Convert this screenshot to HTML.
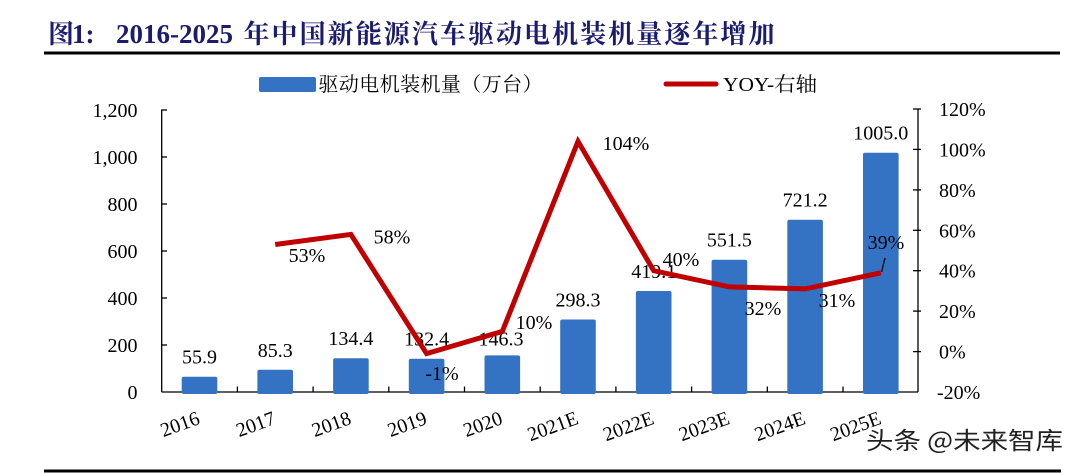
<!DOCTYPE html>
<html>
<head>
<meta charset="utf-8">
<style>
  html, body { margin:0; padding:0; background:#fff; }
  svg { display:block; }
  .ax { font-family:"Liberation Serif","Noto Serif CJK SC",serif; font-size:20px; fill:#000; }
</style>
</head>
<body>
<svg width="1078" height="473" viewBox="0 0 1078 473" xmlns="http://www.w3.org/2000/svg">
  <rect width="1078" height="473" fill="#fff"/>

  <!-- Title -->
  <g fill="#1c1c6e" font-weight="bold">
    <text x="48" y="43" font-family="'Noto Serif CJK SC','Liberation Serif',serif" font-size="26">图</text>
    <text x="72" y="43" font-family="'Liberation Serif',serif" font-size="27">1:</text>
    <text x="116" y="43" font-family="'Liberation Serif',serif" font-size="27" textLength="117" lengthAdjust="spacingAndGlyphs">2016-2025</text>
    <text x="243.5" y="43" font-family="'Noto Serif CJK SC','Liberation Serif',serif" font-size="26" textLength="531" lengthAdjust="spacing">年中国新能源汽车驱动电机装机量逐年增加</text>
  </g>
  <rect x="44" y="51.5" width="1016" height="3" fill="#000"/>
  <rect x="44" y="469.5" width="1017" height="3" fill="#000"/>

  <!-- Legend -->
  <rect x="259" y="77" width="57" height="15" rx="2" fill="#3472c4"/>
  <text x="318.5" y="91" font-family="'Liberation Serif','Noto Serif CJK SC',serif" font-size="20" textLength="224" lengthAdjust="spacing" fill="#000">驱动电机装机量（万台）</text>
  <line x1="666" y1="84" x2="716" y2="84" stroke="#c00000" stroke-width="5" stroke-linecap="round"/>
  <text x="723" y="91" font-family="'Liberation Serif','Noto Serif CJK SC',serif" font-size="20" textLength="94" lengthAdjust="spacingAndGlyphs" fill="#000">YOY-右轴</text>

  <!-- Axes -->
  <g stroke="#000" stroke-width="1.3" fill="none">
    <line x1="161.7" y1="109.5" x2="161.7" y2="392"/>
    <line x1="161.7" y1="392" x2="918" y2="392"/>
    <line x1="918" y1="109" x2="918" y2="392"/>
    <!-- left ticks -->
    <line x1="161.7" y1="110" x2="167" y2="110"/>
    <line x1="161.7" y1="157" x2="167" y2="157"/>
    <line x1="161.7" y1="204" x2="167" y2="204"/>
    <line x1="161.7" y1="251" x2="167" y2="251"/>
    <line x1="161.7" y1="298" x2="167" y2="298"/>
    <line x1="161.7" y1="345" x2="167" y2="345"/>
    <!-- right ticks -->
    <line x1="913" y1="109" x2="921" y2="109"/>
    <line x1="913" y1="149.4" x2="921" y2="149.4"/>
    <line x1="913" y1="189.9" x2="921" y2="189.9"/>
    <line x1="913" y1="230.3" x2="921" y2="230.3"/>
    <line x1="913" y1="270.7" x2="921" y2="270.7"/>
    <line x1="913" y1="311.1" x2="921" y2="311.1"/>
    <line x1="913" y1="351.6" x2="921" y2="351.6"/>
    <!-- category ticks -->
    <line x1="237.4" y1="386.5" x2="237.4" y2="392"/>
    <line x1="313.1" y1="386.5" x2="313.1" y2="392"/>
    <line x1="388.8" y1="386.5" x2="388.8" y2="392"/>
    <line x1="464.5" y1="386.5" x2="464.5" y2="392"/>
    <line x1="540.2" y1="386.5" x2="540.2" y2="392"/>
    <line x1="615.9" y1="386.5" x2="615.9" y2="392"/>
    <line x1="691.6" y1="386.5" x2="691.6" y2="392"/>
    <line x1="767.3" y1="386.5" x2="767.3" y2="392"/>
    <line x1="843" y1="386.5" x2="843" y2="392"/>
  </g>

  <!-- Left labels -->
  <g class="ax" text-anchor="end">
    <text x="137.5" y="117">1,200</text>
    <text x="137.5" y="164">1,000</text>
    <text x="137.5" y="211">800</text>
    <text x="137.5" y="258">600</text>
    <text x="137.5" y="305">400</text>
    <text x="137.5" y="352">200</text>
    <text x="137.5" y="399">0</text>
  </g>
  <!-- Right labels -->
  <g class="ax" text-anchor="start">
    <text x="939" y="116">120%</text>
    <text x="939" y="156.4">100%</text>
    <text x="939" y="196.9">80%</text>
    <text x="939" y="237.3">60%</text>
    <text x="939" y="277.7">40%</text>
    <text x="939" y="318.1">20%</text>
    <text x="939" y="358.6">0%</text>
    <text x="937" y="399">-20%</text>
  </g>

  <!-- Bars -->
  <g fill="#3472c4">
    <rect x="181.7" y="376.7" width="35.6" height="17.3" rx="2"/>
    <rect x="257.4" y="369.8" width="35.6" height="24.2" rx="2"/>
    <rect x="333.1" y="358.2" width="35.6" height="35.8" rx="2"/>
    <rect x="408.8" y="358.7" width="35.6" height="35.3" rx="2"/>
    <rect x="484.5" y="355.4" width="35.6" height="38.6" rx="2"/>
    <rect x="560.2" y="319.5" width="35.6" height="74.5" rx="2"/>
    <rect x="635.9" y="291.0" width="35.6" height="103" rx="2"/>
    <rect x="711.6" y="259.7" width="35.6" height="134.3" rx="2"/>
    <rect x="787.3" y="219.7" width="35.6" height="174.3" rx="2"/>
    <rect x="863.0" y="152.7" width="35.6" height="241.3" rx="2"/>
  </g>

  <!-- Bar value labels -->
  <g class="ax" text-anchor="middle">
    <text x="199.5" y="363.7">55.9</text>
    <text x="275.2" y="356.8">85.3</text>
    <text x="350.9" y="345.2">134.4</text>
    <text x="426.6" y="345.7">132.4</text>
    <text x="501" y="345.4">146.3</text>
    <text x="578.0" y="306.5">298.3</text>
    <text x="653.7" y="278">419.1</text>
    <text x="729.4" y="246.7">551.5</text>
    <text x="805.1" y="206.7">721.2</text>
    <text x="880.8" y="139.7">1005.0</text>
  </g>

  <!-- YOY line -->
  <polyline fill="none" stroke="#c00000" stroke-width="5" stroke-linejoin="miter" stroke-miterlimit="10"
    points="275.2,244.5 350.9,234.4 426.6,353.6 502.3,331.4 578.0,141.4 653.7,270.7 729.4,286.9 805.1,288.9 880.8,272.8"/>
  <line x1="885" y1="258" x2="881.5" y2="272" stroke="#000" stroke-width="1.2"/>

  <!-- YOY labels -->
  <g class="ax" text-anchor="middle">
    <text x="307" y="262">53%</text>
    <text x="392" y="243.7">58%</text>
    <text x="442" y="380">-1%</text>
    <text x="534" y="329">10%</text>
    <text x="626" y="150">104%</text>
    <text x="681" y="266">40%</text>
    <text x="763" y="315">32%</text>
    <text x="837" y="307">31%</text>
    <text x="886" y="249">39%</text>
  </g>

  <!-- X labels -->
  <g class="ax" text-anchor="end">
    <text x="201" y="423.5" transform="rotate(-20 201 423.5)">2016</text>
    <text x="276.7" y="423.5" transform="rotate(-20 276.7 423.5)">2017</text>
    <text x="352.4" y="423.5" transform="rotate(-20 352.4 423.5)">2018</text>
    <text x="428.1" y="423.5" transform="rotate(-20 428.1 423.5)">2019</text>
    <text x="503.8" y="423.5" transform="rotate(-20 503.8 423.5)">2020</text>
    <text x="579.5" y="423.5" transform="rotate(-20 579.5 423.5)">2021E</text>
    <text x="655.2" y="423.5" transform="rotate(-20 655.2 423.5)">2022E</text>
    <text x="730.9" y="423.5" transform="rotate(-20 730.9 423.5)">2023E</text>
    <text x="806.6" y="423.5" transform="rotate(-20 806.6 423.5)">2024E</text>
    <text x="882.3" y="423.5" transform="rotate(-20 882.3 423.5)">2025E</text>
  </g>

  <!-- Watermark -->
  <text x="866" y="449" font-family="'Noto Sans CJK SC','Liberation Sans',sans-serif" font-size="24" textLength="197" lengthAdjust="spacingAndGlyphs" fill="#222" stroke="#fff" stroke-width="2" paint-order="stroke">头条 @未来智库</text>
</svg>
</body>
</html>
